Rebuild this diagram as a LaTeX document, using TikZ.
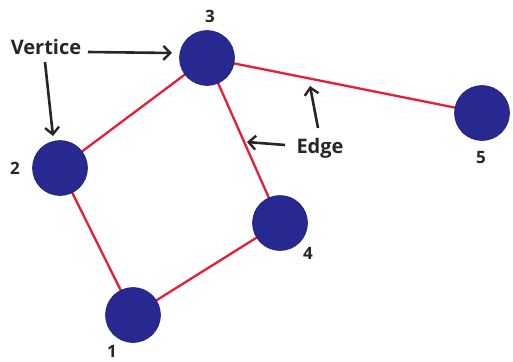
\documentclass[tikz,border=0pt]{standalone}
\usepackage{fontspec}
\setmainfont{Open Sans}
\usetikzlibrary{arrows.meta}
\definecolor{vblue}{RGB}{40,40,145}
\definecolor{ered}{RGB}{230,30,55}
\tikzset{
  vert/.style={circle,fill=vblue,draw=vblue!80!black,line width=0.6pt,minimum size=55pt,inner sep=0pt},
  edgeline/.style={draw=ered,line width=2.3pt},
  numlabel/.style={font=\bfseries\fontsize{17}{17}\selectfont,text=black!85,inner sep=0pt},
  annot/.style={font=\bfseries\fontsize{20}{20}\selectfont,text=black!85,inner sep=0pt},
  pointer/.style={draw=black!85,line width=2.6pt,-{Straight Barb[length=7pt,width=14pt,line width=2.4pt]}}
}
\begin{document}
\begin{tikzpicture}[x=1pt,y=-1pt]
\useasboundingbox (0,0) rectangle (513,361);
\fill[white] (0,0) rectangle (513,361);
% edges first
\coordinate (p3) at (207,58);
\coordinate (p2) at (60,168);
\coordinate (p1) at (133,315);
\coordinate (p4) at (280,223);
\coordinate (p5) at (482,113);
\draw[edgeline] (p3) -- (p2);
\draw[edgeline] (p3) -- (p5);
\draw[edgeline] (p3) -- (p4);
\draw[edgeline] (p2) -- (p1);
\draw[edgeline] (p1) -- (p4);
% vertices
\node[vert] (n3) at (p3) {};
\node[vert] (n2) at (p2) {};
\node[vert] (n1) at (p1) {};
\node[vert] (n4) at (p4) {};
\node[vert] (n5) at (p5) {};
% number labels
\node[numlabel] (l3) at (210,16) {3};
\node[numlabel] (l2) at (15,168) {2};
\node[numlabel] (l1) at (112,351) {1};
\node[numlabel] (l4) at (308,253) {4};
\node[numlabel] (l5) at (481,158) {5};
% annotations
\node[annot] (vt) at (46,47) {Vertice};
\node[annot] (ed) at (320,148) {Edge};
\coordinate (vtR) at (88,52);
\coordinate (vtRe) at (172,53);
\coordinate (vtD) at (45,62);
\coordinate (vtDe) at (53,136);
\coordinate (edL) at (285,145);
\coordinate (edLe) at (247,142);
\coordinate (edU) at (318,128);
\coordinate (edUe) at (310,86);
\draw[pointer] (vtR) -- (vtRe);
\draw[pointer] (vtD) -- (vtDe);
\draw[pointer] (edL) -- (edLe);
\draw[pointer] (edU) -- (edUe);
\end{tikzpicture}
\end{document}
